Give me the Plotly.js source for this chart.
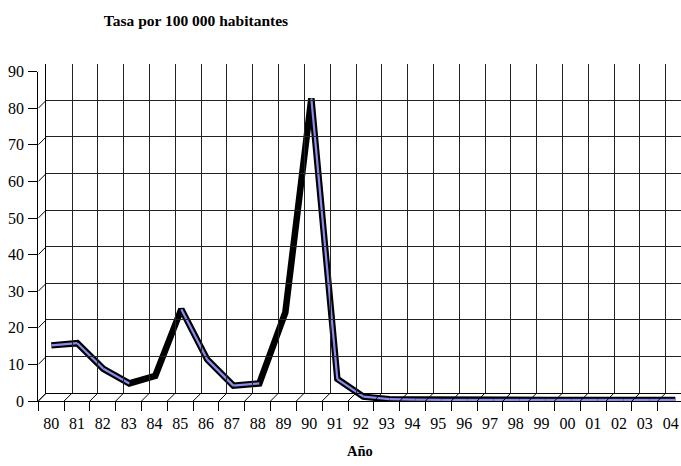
<!DOCTYPE html>
<html>
<head>
<meta charset="utf-8">
<script src="https://cdn.plot.ly/plotly-3.0.1.min.js"></script>
<style>html,body{margin:0;padding:0;background:#fff;}#chart{width:681px;height:466px;}</style>
</head>
<body>
<div id="chart"></div>
<script>
// ---- data ----
var years = ["80","81","82","83","84","85","86","87","88","89","90","91","92","93","94","95","96","97","98","99","00","01","02","03","04"];
var rate  = [15.2, 15.8, 8.8, 4.8, 6.9, 25.1, 11.3, 4.2, 4.8, 24.2, 82.7, 6.0, 1.2, 0.5, 0.4, 0.3, 0.3, 0.3, 0.3, 0.3, 0.3, 0.3, 0.3, 0.3, 0.3];
var yTicks = [0, 10, 20, 30, 40, 50, 60, 70, 80, 90];
var titleText = "Tasa por 100 000 habitantes";
var xTitleText = "Año";

// ---- geometry (pixels) ----
var W = 681, H = 466;
var frontL = 38.3, frontB = 401, frontT = 71.6;
var depth = 8;            // back wall offset (px, right & up)
var mid = {dx: 4.8, dy: 4};
var binPx = 25.81;

var idx = years.map(function(_, i){ return i; });
var bounds = years.map(function(_, i){ return i - 0.5; });

function xDom(left){ return [left / W, 1]; }
function xRange(left){ return [-0.5, -0.5 + (W - left) / binPx]; }
function yDom(b, t){ return [(H - b) / H, (H - t) / H]; }

var serif = '"Liberation Serif", "Times New Roman", Times, serif';

// blue top face only on segments that are not rising
var bx = [], by = [];
for (var i = 0; i < rate.length - 1; i++) {
  if (rate[i + 1] - rate[i] < 1) {
    bx.push(idx[i], idx[i + 1], null);
    by.push(rate[i], rate[i + 1], null);
  }
}

var traces = [
  // placeholders so the back-wall and front-tick axes get drawn
  {x: [null], y: [null], xaxis: 'x2', yaxis: 'y2', mode: 'lines', type: 'scatter', hoverinfo: 'skip', showlegend: false},
  {x: [null], y: [null], xaxis: 'x3', yaxis: 'y', mode: 'lines', type: 'scatter', hoverinfo: 'skip', showlegend: false},
  {x: [null], y: [null], xaxis: 'x', yaxis: 'y', mode: 'lines', type: 'scatter', hoverinfo: 'skip', showlegend: false},
  {x: idx, y: rate, xaxis: 'x4', yaxis: 'y4', mode: 'lines', type: 'scatter',
   line: {color: '#000000', width: 6.5, shape: 'linear'}, hoverinfo: 'skip', showlegend: false},
  {x: bx, y: by, xaxis: 'x4', yaxis: 'y4', mode: 'lines', type: 'scatter', connectgaps: false,
   line: {color: '#8c8cf0', width: 2.2}, hoverinfo: 'skip', showlegend: false}
];

var shapes = [];
bounds.forEach(function(b){
  shapes.push({type: 'line', layer: 'above', xref: 'x', yref: 'y', xsizemode: 'pixel', ysizemode: 'pixel',
    xanchor: b, yanchor: 0, x0: 0, x1: depth, y0: 0, y1: depth, line: {color: '#000', width: 1}});
});
yTicks.forEach(function(v){
  shapes.push({type: 'line', layer: 'above', xref: 'x', yref: 'y', xsizemode: 'pixel', ysizemode: 'pixel',
    xanchor: -0.5, yanchor: v, x0: 0, x1: depth, y0: 0, y1: depth, line: {color: '#000', width: 1}});
});

var backL = frontL + depth, backB = frontB - depth, backT = frontT - depth;
var midL = frontL + mid.dx, midB = frontB - mid.dy, midT = frontT - mid.dy;

var layout = {
  width: W, height: H,
  margin: {l: 0, r: 0, t: 0, b: 0, pad: 0},
  paper_bgcolor: '#ffffff', plot_bgcolor: 'rgba(0,0,0,0)',
  font: {family: serif, size: 16, color: '#000'},
  showlegend: false,
  title: {text: '<b>' + titleText + '</b>', font: {family: serif, size: 15.5, color: '#000'},
          x: 196 / W, xanchor: 'center', xref: 'paper', y: 1 - 20.5 / H, yref: 'container', yanchor: 'middle'},
  // back wall (grid)
  xaxis2: {domain: xDom(backL), range: xRange(backL), anchor: 'y2', showgrid: true, gridcolor: '#222', gridwidth: 1,
           tickmode: 'array', tickvals: bounds, showticklabels: false, ticks: '', zeroline: false,
           showline: true, linecolor: '#000', linewidth: 1, fixedrange: true},
  yaxis2: {domain: yDom(backB, backT), range: [0, 90], anchor: 'x2', showgrid: true, gridcolor: '#222', gridwidth: 1,
           tickmode: 'array', tickvals: yTicks, showticklabels: false, ticks: '', zeroline: false,
           showline: true, linecolor: '#000', linewidth: 1, fixedrange: true},
  // front axes
  xaxis: {domain: xDom(frontL), range: xRange(frontL), anchor: 'y', showgrid: false, zeroline: false,
          tickmode: 'array', tickvals: idx, ticktext: years, ticks: '', ticklabelstandoff: 8,
          tickfont: {family: serif, size: 16, color: '#000'},
          showline: true, linecolor: '#000', linewidth: 1, fixedrange: true},
  xaxis3: {domain: xDom(frontL), range: xRange(frontL), anchor: 'y', overlaying: 'x', showgrid: false, zeroline: false,
           tickmode: 'array', tickvals: bounds, ticks: 'outside', ticklen: 9, tickcolor: '#000', tickwidth: 1,
           showticklabels: false, showline: false, fixedrange: true, side: 'bottom'},
  yaxis: {domain: yDom(frontB, frontT), range: [0, 90], anchor: 'x', showgrid: false, zeroline: false,
          tickmode: 'array', tickvals: yTicks, ticks: 'outside', ticklen: 9, tickcolor: '#000', tickwidth: 1,
          tickfont: {family: serif, size: 16, color: '#000'}, ticklabelstandoff: 1,
          showline: true, linecolor: '#000', linewidth: 1, fixedrange: true},
  // mid-depth axes for the ribbon
  xaxis4: {domain: xDom(midL), range: xRange(midL), anchor: 'y4', overlaying: 'x', visible: false, fixedrange: true},
  yaxis4: {domain: yDom(midB, midT), range: [0, 90], anchor: 'x4', overlaying: 'y', visible: false, fixedrange: true},
  shapes: shapes,
  annotations: [{text: '<b>' + xTitleText + '</b>', xref: 'paper', yref: 'paper', x: 360 / W, y: (H - 451) / H,
                 xanchor: 'center', yanchor: 'middle', showarrow: false, font: {family: serif, size: 14.5, color: '#000'}}]
};

Plotly.newPlot('chart', traces, layout, {displayModeBar: false, staticPlot: true});
</script>
</body>
</html>
